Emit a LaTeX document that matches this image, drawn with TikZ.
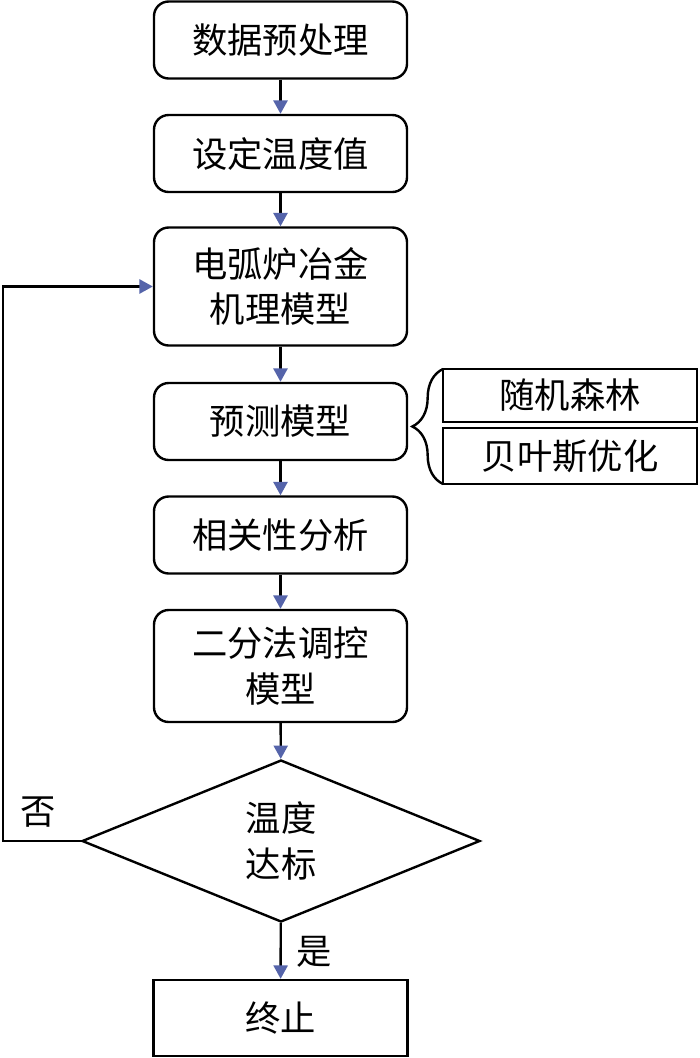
\documentclass[tikz,border=0pt]{standalone}
\usepackage{fontspec}
\newfontfamily\cjk{Noto Sans CJK SC}
\usetikzlibrary{arrows.meta,shapes.geometric,decorations.pathreplacing}
\definecolor{arrowblue}{RGB}{85,100,170}
\begin{document}
\begin{tikzpicture}[x=0.75pt,y=-0.75pt,
  every node/.style={font=\cjk\fontsize{26.5}{34}\selectfont, line width=1.8pt, inner sep=0pt, align=center},
  rbox/.style={draw, rounded corners=11pt, minimum width=189.75pt},
  sbox/.style={draw, minimum width=190.5pt},
  lbl/.style={},
  conn/.style={line width=1.8pt, -{Triangle[length=10pt,width=10.5pt,color=arrowblue,fill=arrowblue]}},
  line/.style={line width=1.8pt}]
\useasboundingbox (0,0) rectangle (700,1058);
\node[rbox, minimum height=57.75pt] (b1) at (280.5,40) {数据预处理};
\node[rbox, minimum height=57.75pt] (b2) at (280.5,153.5) {设定温度值};
\node[rbox, minimum height=88.5pt] (b3) at (280.5,286.5) {电弧炉冶金\\机理模型};
\node[rbox, minimum height=57.75pt] (b4) at (280.5,421.5) {预测模型};
\node[rbox, minimum height=57.75pt] (b5) at (280.5,535) {相关性分析};
\node[rbox, minimum height=84pt] (b6) at (280.5,666) {二分法调控\\模型};
\node[draw, diamond, minimum width=298.5pt, minimum height=121.5pt, inner sep=0pt] (d) at (281,841) {};
\node at (281,841) (dt) {温度\\达标};
\node[sbox, minimum height=57pt] (b7) at (280.5,1018) {终止};
\node[sbox, minimum width=190.5pt, minimum height=39.75pt] (rf) at (570,395.5) {随机森林};
\node[sbox, minimum width=190.5pt, minimum height=42pt] (by) at (570,456) {贝叶斯优化};
\coordinate (bt) at (443,484);
\coordinate (tp) at (443,369);
\draw[line, decorate, decoration={brace, amplitude=23pt}] (bt) -- (tp);
\node[lbl] (no) at (38,812) {否};
\node[lbl] (yes) at (314,952) {是};
\draw[conn] (b1) -- (b2);
\draw[conn] (b2) -- (b3);
\draw[conn] (b3) -- (b4);
\draw[conn] (b4) -- (b5);
\draw[conn] (b5) -- (b6);
\draw[conn] (b6) -- (d);
\draw[conn] (d) -- (b7);
\coordinate (lb) at (3,841);
\draw[conn] (d.west) -- (lb) |- (b3.west);
\end{tikzpicture}
\end{document}
